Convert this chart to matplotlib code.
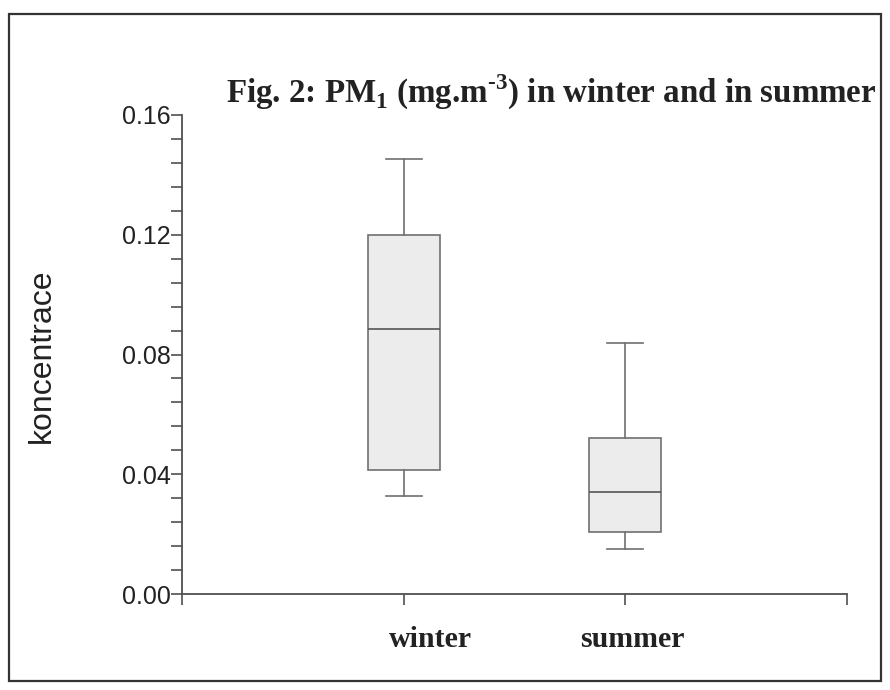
import matplotlib.pyplot as plt
import matplotlib.transforms as mtransforms
from matplotlib.patches import Rectangle
from matplotlib.ticker import MultipleLocator, FormatStrFormatter

plt.rcParams['mathtext.fontset'] = 'custom'
plt.rcParams['mathtext.rm'] = 'Liberation Serif:bold'
plt.rcParams['mathtext.bf'] = 'Liberation Serif:bold'

# PM1 box statistics per season
seasons = ['winter', 'summer']
whis_low = [0.0328, 0.0150]
q1 = [0.0414, 0.0206]
median = [0.0886, 0.0341]
q3 = [0.1200, 0.0522]
whis_high = [0.1453, 0.0837]

stats = []
for i, s in enumerate(seasons):
    stats.append({'label': s, 'whislo': whis_low[i], 'q1': q1[i], 'med': median[i],
                  'q3': q3[i], 'whishi': whis_high[i], 'fliers': []})

fig = plt.figure(figsize=(8.9, 6.9), dpi=100)
ax = fig.add_axes([182 / 890, 1 - 594 / 690, (847 - 182) / 890, (594 - 115) / 690])

edge = '#707070'
ax.bxp(stats, positions=[1, 2], widths=0.325, capwidths=0.163, patch_artist=True,
       showfliers=False,
       boxprops=dict(facecolor='#ececec', edgecolor=edge, linewidth=1.2),
       medianprops=dict(color='#555555', linewidth=1.2),
       whiskerprops=dict(color=edge, linewidth=1.2),
       capprops=dict(color=edge, linewidth=1.2))

ax.set_xlim(0, 3)
ax.set_ylim(0, 0.16)
for side in ['top', 'right']:
    ax.spines[side].set_visible(False)
for side in ['left', 'bottom']:
    ax.spines[side].set_color('#505050')
    ax.spines[side].set_linewidth(1.3)

ax.yaxis.set_major_locator(MultipleLocator(0.04))
ax.yaxis.set_minor_locator(MultipleLocator(0.008))
ax.yaxis.set_major_formatter(FormatStrFormatter('%.2f'))
ax.tick_params(axis='y', which='both', direction='out', length=8, width=1.2,
               color='#505050', labelsize=18, pad=0, labelcolor='#222222')
for lab in ax.get_yticklabels():
    lab.set_family('Liberation Sans')

ax.set_xticks([0, 1, 2, 3])
ax.set_xticklabels(['', 'winter', 'summer', ''])
ax.tick_params(axis='x', direction='out', length=8, width=1.2, color='#505050', pad=15)
shifts = [0, 0.27, 0.07, 0]
for lab, dx in zip(ax.get_xticklabels(), shifts):
    lab.set_family('Liberation Serif')
    lab.set_fontweight('bold')
    lab.set_fontsize(21.5)
    lab.set_color('#222222')
    lab.set_transform(lab.get_transform() + mtransforms.ScaledTranslation(dx, 0, fig.dpi_scale_trans))

fig.text(42 / 890, 1 - 356 / 690, 'koncentrace', rotation=90, ha='center', va='center',
         fontsize=23, family='Liberation Sans', color='#222222')

fig.text(551 / 890, 1 - 103 / 690, r'Fig. 2: PM$_1$ (mg.m$^{\text{-}3}$) in winter and in summer',
         ha='center', va='baseline', fontsize=23.8, family='Liberation Serif',
         fontweight='bold', color='#222222')

# outer frame
fig.add_artist(Rectangle((8.5 / 890, 1 - 681 / 690), (881 - 8.5) / 890, (681 - 13.5) / 690,
                         transform=fig.transFigure, fill=False, edgecolor='#333333',
                         linewidth=1.6))

fig.savefig('out.png', dpi=100)
